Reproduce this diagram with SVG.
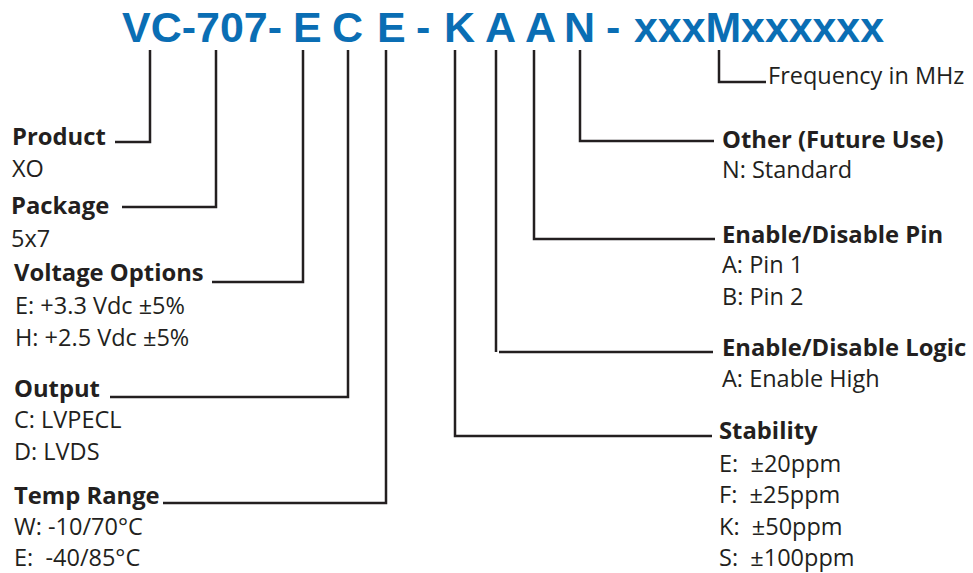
<svg xmlns="http://www.w3.org/2000/svg" width="973" height="573" viewBox="0 0 973 573">
<style>
.t{font-family:"Liberation Sans",Arial,sans-serif;font-weight:bold;font-size:43px;fill:#0A6EB4}
.h{font-family:"Open Sans","Noto Sans",sans-serif;font-weight:bold;font-size:23.8px;fill:#231F20}
.r{font-family:"Open Sans","Noto Sans",sans-serif;font-size:23.5px;fill:#231F20}
.c{fill:none;stroke:#231F20;stroke-width:2.5}
</style>
<rect width="973" height="573" fill="#fff"/>
<g id="title">
<text class="t" x="122" y="42" textLength="160" lengthAdjust="spacingAndGlyphs">VC-707-</text>
<text class="t" x="293" y="42">E</text>
<text class="t" x="332" y="42">C</text>
<text class="t" x="377" y="42">E</text>
<text class="t" x="416" y="42">-</text>
<text class="t" x="444" y="42">K</text>
<text class="t" x="485" y="42">A</text>
<text class="t" x="525" y="42">A</text>
<text class="t" x="564" y="42">N</text>
<text class="t" x="606" y="42">-</text>
<text class="t" x="634" y="42" textLength="250" lengthAdjust="spacingAndGlyphs">xxxMxxxxxx</text>
</g>
<g id="connectors">
<path class="c" d="M150,50V142H115"/>
<path class="c" d="M216,50V207H122"/>
<path class="c" d="M303,50V282H212"/>
<path class="c" d="M348,50V397H110"/>
<path class="c" d="M386,50V503H163"/>
<path class="c" d="M455,50V436H712"/>
<path class="c" d="M496,50V352M499,352H713"/>
<path class="c" d="M534,50V239H715"/>
<path class="c" d="M580,50V141H714"/>
<path class="c" d="M719,50V82H766"/>
</g>
<g id="product"><text class="h" x="12" y="145">Product</text><text class="r" x="12" y="177">XO</text></g>
<g id="package"><text class="h" x="11" y="214">Package</text><text class="r" x="11" y="247">5x7</text></g>
<g id="voltage"><text class="h" x="14" y="281">Voltage Options</text><text class="r" x="15" y="314">E: +3.3 Vdc ±5%</text><text class="r" x="15" y="346">H: +2.5 Vdc ±5%</text></g>
<g id="output"><text class="h" x="14" y="397">Output</text><text class="r" x="14" y="428">C: LVPECL</text><text class="r" x="14" y="460">D: LVDS</text></g>
<g id="temp"><text class="h" x="14" y="504">Temp Range</text><text class="r" x="14" y="535">W: -10/70°C</text><text class="r" x="14" y="566" xml:space="preserve">E:  -40/85°C</text></g>
<g id="frequency"><text class="r" x="768" y="84">Frequency in MHz</text></g>
<g id="other"><text class="h" x="722" y="148">Other (Future Use)</text><text class="r" x="722" y="178">N: Standard</text></g>
<g id="pin"><text class="h" x="722" y="243">Enable/Disable Pin</text><text class="r" x="722" y="273">A: Pin 1</text><text class="r" x="722" y="305">B: Pin 2</text></g>
<g id="logic"><text class="h" x="722" y="356">Enable/Disable Logic</text><text class="r" x="722" y="387">A: Enable High</text></g>
<g id="stability"><text class="h" x="719" y="439">Stability</text><text class="r" x="719" y="472" xml:space="preserve">E:  ±20ppm</text><text class="r" x="719" y="503" xml:space="preserve">F:  ±25ppm</text><text class="r" x="719" y="535" xml:space="preserve">K:  ±50ppm</text><text class="r" x="719" y="566" xml:space="preserve">S:  ±100ppm</text></g>
</svg>
